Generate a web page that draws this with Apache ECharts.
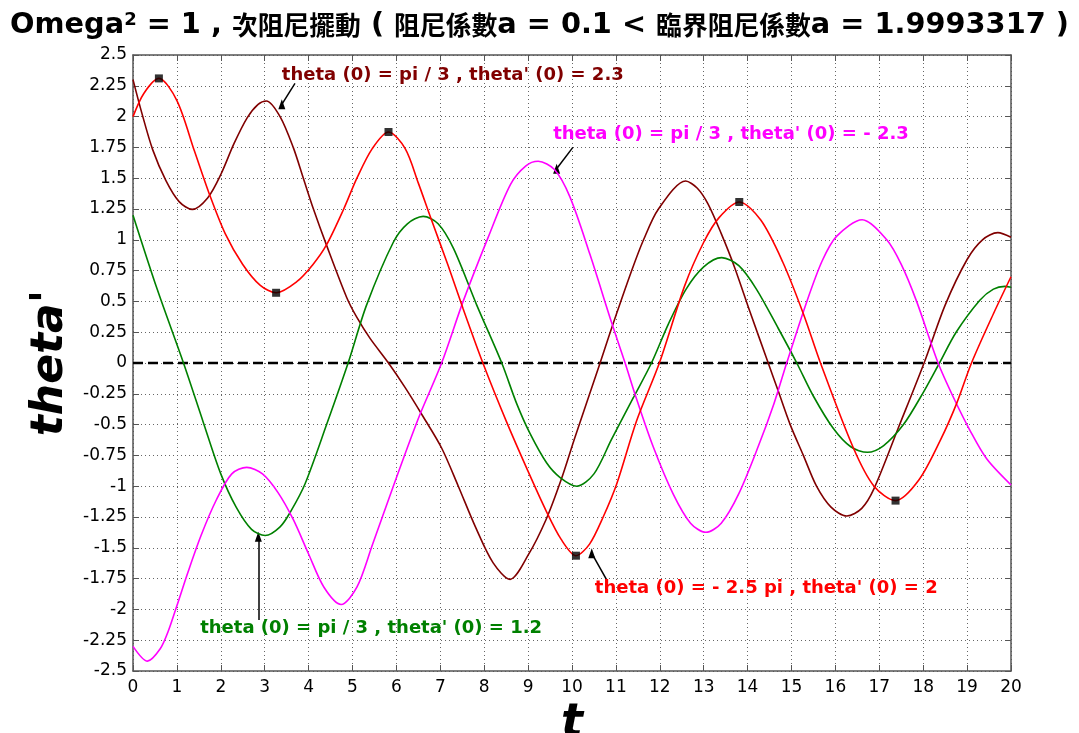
<!DOCTYPE html>
<html>
<head>
<meta charset="utf-8">
<script src="https://cdn.jsdelivr.net/npm/echarts@6.0.0/dist/echarts.min.js"></script>
<style>
html,body{margin:0;padding:0;background:#fff;}
#chart{width:1079px;height:733px;}
</style>
</head>
<body>
<div id="chart"></div>
<script>
// ---- data ----
const xTicks = [0, 20, 1];          // min, max, step of t axis
const yTicks = [-2.5, 2.5, 0.25];   // min, max, step of theta' axis

// theta(0) = -2.5 pi , theta'(0) = 2   (red)
const redT = [0, 0.25, 0.59, 1.0, 1.4, 1.73, 2.1, 2.5, 2.9, 3.26, 3.73, 4.1, 4.41, 4.8, 5.1, 5.45, 5.82, 6.2, 6.5, 6.8, 7.18, 7.52, 7.97, 8.5, 9.0, 9.41, 9.75, 10.09, 10.4, 10.71, 11.02, 11.47, 11.99, 12.57, 13.0, 13.35, 13.81, 14.3, 14.8, 15.27, 15.66, 16.41, 16.88, 17.37, 17.9, 18.4, 18.76, 19.1, 19.6, 20];
const redV = [2.0, 2.19, 2.31, 2.13, 1.72, 1.38, 1.05, 0.80, 0.63, 0.57, 0.66, 0.80, 0.96, 1.25, 1.5, 1.74, 1.875, 1.74, 1.46, 1.16, 0.79, 0.44, 0, -0.47, -0.88, -1.2, -1.43, -1.564, -1.47, -1.25, -0.98, -0.47, 0, 0.63, 0.98, 1.18, 1.307, 1.16, 0.82, 0.4, 0, -0.69, -1.0, -1.117, -0.95, -0.62, -0.33, 0, 0.4, 0.70];

// theta(0) = pi/3 , theta'(0) = 2.3   (dark red)
const brownT = [0, 0.2, 0.45, 0.75, 1.05, 1.35, 1.7, 2.0, 2.3, 2.6, 2.85, 3.04, 3.35, 3.65, 3.88, 4.11, 4.41, 4.87, 5.1, 5.4, 5.82, 6.2, 6.6, 7.03, 7.41, 7.8, 8.2, 8.59, 9.0, 9.41, 9.75, 10.07, 10.64, 10.9, 11.36, 11.63, 11.97, 12.59, 12.85, 13.1, 13.4, 13.7, 14.05, 14.47, 14.7, 14.97, 15.27, 15.57, 15.9, 16.26, 16.6, 16.88, 17.43, 18.02, 18.5, 19.0, 19.35, 19.7, 20];
const brownV = [2.3, 2.03, 1.73, 1.48, 1.31, 1.247, 1.34, 1.53, 1.78, 1.99, 2.1, 2.127, 2.0, 1.75, 1.5, 1.25, 0.955, 0.53, 0.37, 0.2, 0, -0.2, -0.43, -0.69, -1.0, -1.33, -1.62, -1.756, -1.56, -1.27, -0.95, -0.6, 0, 0.28, 0.75, 1.0, 1.25, 1.477, 1.42, 1.29, 1.05, 0.78, 0.42, 0, -0.23, -0.5, -0.75, -1.0, -1.17, -1.242, -1.18, -1.02, -0.53, 0, 0.47, 0.84, 1.0, 1.058, 1.02];

// theta(0) = pi/3 , theta'(0) = 1.2   (green)
const greenT = [0, 0.55, 1.15, 1.6, 2.0, 2.35, 2.7, 3.01, 3.35, 3.6, 3.92, 4.41, 4.9, 5.32, 5.93, 6.25, 6.61, 6.95, 7.3, 7.83, 8.4, 8.74, 9.04, 9.42, 9.73, 10.11, 10.5, 10.9, 11.4, 11.81, 12.2, 12.6, 13.0, 13.41, 13.8, 14.2, 14.7, 15.12, 15.5, 15.95, 16.35, 16.73, 17.1, 17.55, 18.0, 18.37, 18.75, 19.29, 19.6, 19.86, 20];
const greenV = [1.2, 0.6, 0, -0.48, -0.9, -1.17, -1.35, -1.40, -1.33, -1.2, -0.98, -0.5, 0, 0.47, 0.98, 1.13, 1.19, 1.13, 0.93, 0.47, 0, -0.33, -0.57, -0.81, -0.93, -1.0, -0.9, -0.62, -0.28, 0, 0.32, 0.6, 0.78, 0.855, 0.79, 0.6, 0.28, 0, -0.27, -0.53, -0.68, -0.725, -0.67, -0.5, -0.24, 0, 0.25, 0.51, 0.6, 0.622, 0.615];

// theta(0) = pi/3 , theta'(0) = -2.3   (magenta)
const magT = [0, 0.33, 0.62, 0.8, 1.0, 1.25, 1.55, 1.9, 2.25, 2.59, 2.95, 3.3, 3.65, 4.0, 4.35, 4.74, 5.1, 5.45, 5.93, 6.5, 7.03, 7.52, 8.09, 8.6, 8.95, 9.23, 9.6, 9.95, 10.41, 10.9, 11.21, 11.45, 11.85, 12.3, 12.7, 13.05, 13.4, 13.8, 14.25, 14.6, 14.89, 15.35, 15.7, 16.03, 16.61, 17.17, 17.5, 17.85, 18.34, 18.69, 19.07, 19.45, 20];
const magV = [-2.3, -2.42, -2.32, -2.18, -1.97, -1.70, -1.40, -1.11, -0.9, -0.847, -0.9, -1.05, -1.27, -1.55, -1.82, -1.96, -1.82, -1.48, -1.0, -0.45, 0, 0.5, 1.02, 1.45, 1.6, 1.637, 1.57, 1.35, 0.88, 0.33, 0, -0.27, -0.68, -1.06, -1.3, -1.374, -1.3, -1.06, -0.67, -0.33, 0, 0.5, 0.83, 1.03, 1.163, 1.0, 0.8, 0.5, 0, -0.28, -0.55, -0.78, -0.99];

// black square markers on the red curve
const markT = [0.59, 3.26, 5.82, 10.09, 13.81, 17.37];
const markV = [2.31, 0.57, 1.875, -1.564, 1.307, -1.117];

// annotation texts and their anchors (in data units)
const noteText = [
  "theta (0) = pi / 3 , theta' (0) = 2.3",
  "theta (0) = pi / 3 , theta' (0) = - 2.3",
  "theta (0) = - 2.5 pi , theta' (0) = 2",
  "theta (0) = pi / 3 , theta' (0) = 1.2"
];
const noteAt = [[3.39, 2.335], [9.57, 1.86], [10.52, -1.83], [1.53, -2.15]];
const arrowFrom = [[3.69, 2.27], [10.02, 1.75], [10.79, -1.76], [2.855, -2.086]];
const arrowTo = [[3.39, 2.10], [9.65, 1.577], [10.45, -1.545], [2.855, -1.41]];

// ---- styles ----
const C_RED = '#ff0000', C_BROWN = '#800000', C_GREEN = '#008000', C_MAG = '#ff00ff';
const noteColors = [C_BROWN, C_MAG, C_RED, C_GREEN];
const LAT = 'DejaVu Sans';
const CJK = 'Noto Sans CJK TC';
const AX = '#555';

function zip(a, b) { return a.map((x, i) => [x, b[i]]); }

const chart = echarts.init(document.getElementById('chart'), null, {renderer: 'canvas'});

function xAxisDef(pos, labels) {
  return {
    type: 'value', position: pos, min: xTicks[0], max: xTicks[1], interval: xTicks[2],
    axisLine: {show: true, onZero: false, lineStyle: {color: AX, width: 1.5}},
    axisTick: {show: true, inside: true, length: 6, lineStyle: {color: AX, width: 1}},
    axisLabel: {show: labels, color: '#000', fontSize: 17, fontFamily: LAT, margin: 8},
    splitLine: {show: labels, lineStyle: {type: [1, 3], color: '#666', width: 1}},
    name: labels ? 't' : '', nameLocation: 'middle', nameGap: 18,
    nameTextStyle: {fontSize: 46, fontWeight: 'bold', fontStyle: 'italic', fontFamily: LAT, color: '#000'}
  };
}
function yAxisDef(pos, labels) {
  return {
    type: 'value', position: pos, min: yTicks[0], max: yTicks[1], interval: yTicks[2],
    axisLine: {show: true, onZero: false, lineStyle: {color: AX, width: 1.5}},
    axisTick: {show: true, inside: true, length: 6, lineStyle: {color: AX, width: 1}},
    axisLabel: {show: labels, color: '#000', fontSize: 17, fontFamily: LAT, margin: 6},
    splitLine: {show: labels, lineStyle: {type: [1, 3], color: '#666', width: 1}},
    name: labels ? "theta'" : '', nameLocation: 'middle', nameGap: 58, nameRotate: 90,
    nameTextStyle: {fontSize: 44, fontWeight: 'bold', fontStyle: 'italic', fontFamily: LAT, color: '#000'}
  };
}

function curve(name, t, v, color, z) {
  return {
    name: name, type: 'line', data: zip(t, v), smooth: 0.3, showSymbol: false, symbol: 'none',
    lineStyle: {color: color, width: 1.6}, itemStyle: {color: color}, z: z, silent: true
  };
}

const option = {
  animation: false,
  backgroundColor: '#fff',
  title: {
    left: 'center', top: 6,
    text: "{a|Omega}{s|2}{a| = 1 , }{c|次阻尼擺動}{a| ( }{c|阻尼係數}{a|a = 0.1 < }{c|臨界阻尼係數}{a|a = 1.9993317 )}",
    textStyle: {
      rich: {
        a: {fontFamily: LAT, fontWeight: 'bold', fontSize: 28.8, color: '#000'},
        s: {fontFamily: LAT, fontWeight: 'bold', fontSize: 18, color: '#000', verticalAlign: 'top'},
        c: {fontFamily: CJK, fontWeight: 'bold', fontSize: 25.8, color: '#000'}
      }
    }
  },
  grid: {left: 133, right: 68, top: 55, bottom: 62, containLabel: false, outerBoundsMode: 'none'},
  xAxis: [xAxisDef('bottom', true), xAxisDef('top', false)],
  yAxis: [yAxisDef('left', true), yAxisDef('right', false)],
  series: [
    {
      name: 'zero', type: 'line', data: [[xTicks[0], 0], [xTicks[1], 0]], symbol: 'none', silent: true,
      lineStyle: {color: '#000', width: 2.6, type: [10, 5]}, itemStyle: {color: '#000'}, z: 3
    },
    {
      name: 'notes', type: 'line', data: [], silent: true, itemStyle: {color: '#000'}, z: 9,
      markLine: {
        silent: true, animation: false, symbol: ['none', 'triangle'], symbolSize: [6, 9],
        label: {show: false},
        itemStyle: {color: '#000'},
        lineStyle: {color: '#000', width: 1.5, type: 'solid'},
        data: arrowFrom.map((f, i) => [
          {coord: f, symbol: 'none'},
          {coord: arrowTo[i], symbol: 'triangle', symbolSize: [7, 10], symbolRotate: 0}
        ])
      },
      markPoint: {
        silent: true, animation: false,
        data: noteText.map((s, i) => ({
          coord: noteAt[i], symbol: 'rect', symbolSize: 0.01,
          itemStyle: {color: 'rgba(0,0,0,0)'},
          label: {show: true, formatter: s, position: 'right', distance: 0,
            color: noteColors[i], fontSize: 18, fontWeight: 'bold', fontFamily: LAT}
        }))
      }
    },
    curve('brown', brownT, brownV, C_BROWN, 4),
    curve('green', greenT, greenV, C_GREEN, 5),
    curve('magenta', magT, magV, C_MAG, 6),
    curve('red', redT, redV, C_RED, 7),
    {
      name: 'extrema', type: 'scatter', data: zip(markT, markV), symbol: 'rect', symbolSize: 8,
      itemStyle: {color: '#000'}, z: 8, silent: true
    }
  ]
};
chart.setOption(option);
</script>
</body>
</html>
